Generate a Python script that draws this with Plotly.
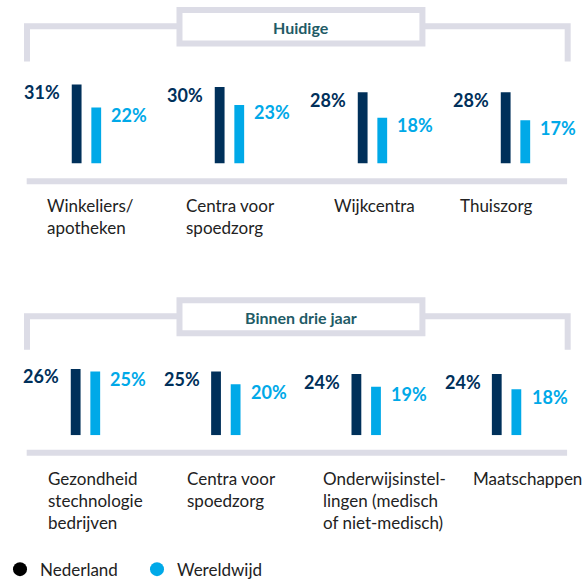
import plotly.graph_objects as go

# ---------------- data ----------------
series_names = ["Nederland", "Wereldwijd"]
panel_titles = ["Huidige", "Binnen drie jaar"]

cats_now = ["Winkeliers/<br>apotheken", "Centra voor<br>spoedzorg", "Wijkcentra", "Thuiszorg"]
ned_now = [31, 30, 28, 28]
wer_now = [22, 23, 18, 17]

cats_3y = ["Gezondheid<br>stechnologie<br>bedrijven", "Centra voor<br>spoedzorg",
           "Onderwijsinstel-<br>lingen (medisch<br>of niet-medisch)", "Maatschappen"]
ned_3y = [26, 25, 24, 24]
wer_3y = [25, 20, 19, 18]

# ---------------- styling ----------------
W, H = 586, 588
NAVY = "#00305a"
CYAN = "#00a9e8"
GRAY = "#dcdce6"
TEAL = "#1f5b66"
TXT = "#222222"
FONT = "Lato"

def px(x):
    return x / W

def py(y):
    return 1 - y / H

fig = go.Figure()

panels = [
    dict(ned=ned_now, wer=wer_now, cats=cats_now, xa="x", ya="y",
         c0=76.0, unit=146.0, base=167.7, scale=2.61, top=55,
         label_x=[33.3, 175.7, 327, 455], label_top=198.5),
    dict(ned=ned_3y, wer=wer_3y, cats=cats_3y, xa="x2", ya="y2",
         c0=75.0, unit=143.3, base=446.7, scale=2.62, top=352,
         label_x=[34.5, 176.5, 315.5, 468.5], label_top=478),
]

annotations = []
for p in panels:
    u = p["unit"]
    xs = list(range(len(p["ned"])))
    fig.add_trace(go.Bar(x=xs, y=p["ned"], width=10 / u, offset=-15 / u,
                         marker=dict(color=NAVY, line=dict(width=0)),
                         xaxis=p["xa"], yaxis=p["ya"], showlegend=False,
                         hoverinfo="skip"))
    fig.add_trace(go.Bar(x=xs, y=p["wer"], width=10 / u, offset=5 / u,
                         marker=dict(color=CYAN, line=dict(width=0)),
                         xaxis=p["xa"], yaxis=p["ya"], showlegend=False,
                         hoverinfo="skip"))
    for i, (a, b) in enumerate(zip(p["ned"], p["wer"])):
        annotations.append(dict(x=i, y=a, xref=p["xa"], yref=p["ya"], text=f"{a}%",
                                showarrow=False, xanchor="right", yanchor="middle",
                                xshift=-24, yshift=-7.5,
                                font=dict(family=FONT, size=18, color=NAVY, weight="bold")))
        annotations.append(dict(x=i, y=b, xref=p["xa"], yref=p["ya"], text=f"{b}%",
                                showarrow=False, xanchor="left", yanchor="middle",
                                xshift=23, yshift=-7.5,
                                font=dict(family=FONT, size=18, color=CYAN, weight="bold")))
    for c, xx in zip(p["cats"], p["label_x"]):
        annotations.append(dict(x=px(xx), y=py(p["label_top"]), xref="paper", yref="paper",
                                text=c, showarrow=False, xanchor="left", yanchor="top",
                                align="left", font=dict(family=FONT, size=17, color=TXT)))

# legend entries (circle markers)
fig.add_trace(go.Scatter(x=[None], y=[None], mode="markers", name=series_names[0],
                         marker=dict(color="#000000", size=14, symbol="circle")))
fig.add_trace(go.Scatter(x=[None], y=[None], mode="markers", name=series_names[1],
                         marker=dict(color=CYAN, size=14, symbol="circle")))

# brackets, boxes, separators
shapes = []
brackets = [(27, 63, 7.3, 47.7, 186), (324.5, 359, 305, 345, 464.5)]
for (hy, vy, bt, bb, sep), title in zip(brackets, panel_titles):
    shapes.append(dict(type="path", xref="paper", yref="paper",
                       path=(f"M {px(15.3)} {py(vy)} L {px(15.3)} {py(hy)} "
                             f"L {px(567.3)} {py(hy)} L {px(567.3)} {py(vy)}"),
                       line=dict(color=GRAY, width=6)))
    shapes.append(dict(type="rect", xref="paper", yref="paper",
                       x0=px(171), x1=px(419), y0=py(bt + 3), y1=py(bb - 3),
                       fillcolor="white", line=dict(color=GRAY, width=6)))
    shapes.append(dict(type="line", xref="paper", yref="paper",
                       x0=px(15), x1=px(566.7), y0=py(sep), y1=py(sep),
                       line=dict(color=GRAY, width=6)))
    annotations.append(dict(x=px(295), y=py((bt + bb) / 2 + 1), xref="paper", yref="paper",
                            text=f"<b>{title}</b>", showarrow=False,
                            xanchor="center", yanchor="middle",
                            font=dict(family=FONT, size=16, color=TEAL)))

layout_axes = {}
for k, p in enumerate(panels):
    sfx = "" if k == 0 else "2"
    u = p["unit"]
    rng_top = (p["base"] - p["top"]) / p["scale"]
    layout_axes["xaxis" + sfx] = dict(domain=[0, 1], range=[-p["c0"] / u, (W - p["c0"]) / u],
                                      visible=False, fixedrange=True, anchor="y" + sfx)
    layout_axes["yaxis" + sfx] = dict(domain=[py(p["base"]), py(p["top"])],
                                      range=[0, rng_top], visible=False,
                                      fixedrange=True, anchor="x" + sfx)

fig.update_layout(
    width=W, height=H,
    margin=dict(l=0, r=0, t=0, b=0),
    paper_bgcolor="white", plot_bgcolor="rgba(0,0,0,0)",
    barmode="overlay",
    shapes=shapes,
    annotations=annotations,
    showlegend=True,
    legend=dict(orientation="h", x=-0.021, y=py(603), xanchor="left", yanchor="bottom",
                font=dict(family=FONT, size=17, color=TXT),
                entrywidth=92, entrywidthmode="pixels",
                itemclick=False, itemdoubleclick=False,
                bgcolor="rgba(0,0,0,0)"),
    font=dict(family=FONT),
    **layout_axes,
)

fig.write_html("out.html", config={"displayModeBar": False},
               post_script="document.body.style.margin='0';document.body.style.overflow='hidden';")
